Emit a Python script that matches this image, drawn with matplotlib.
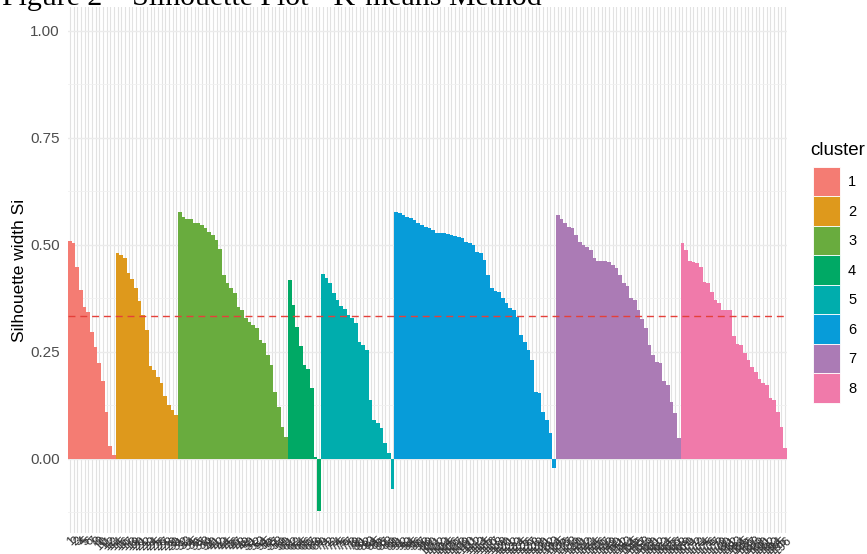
import numpy as np
import matplotlib.pyplot as plt
from matplotlib.patches import Patch

# silhouette widths per cluster, sorted high to low as in the clustering output
sil_c1 = [0.509, 0.505, 0.449, 0.395, 0.356, 0.344, 0.297, 0.262, 0.224, 0.181, 0.110, 0.030, 0.010]
sil_c2 = [0.482, 0.476, 0.470, 0.434, 0.421, 0.399, 0.368, 0.336, 0.301, 0.217, 0.208, 0.192,
          0.177, 0.146, 0.126, 0.114, 0.103]
sil_c3 = [0.578, 0.566, 0.560, 0.560, 0.552, 0.552, 0.547, 0.539, 0.531, 0.523, 0.512, 0.490,
          0.430, 0.410, 0.399, 0.387, 0.356, 0.348, 0.329, 0.321, 0.313, 0.305, 0.278, 0.270,
          0.243, 0.220, 0.157, 0.122, 0.075, 0.052]
sil_c4 = [0.418, 0.360, 0.309, 0.264, 0.220, 0.210, 0.165, 0.005, -0.122]
sil_c5 = [0.431, 0.422, 0.410, 0.387, 0.371, 0.357, 0.350, 0.336, 0.329, 0.318, 0.274, 0.266,
          0.255, 0.138, 0.091, 0.083, 0.072, 0.037, 0.015, -0.071]
sil_c6 = [0.578, 0.574, 0.570, 0.566, 0.562, 0.558, 0.551, 0.547, 0.543, 0.539, 0.535, 0.529,
          0.527, 0.527, 0.525, 0.523, 0.520, 0.518, 0.516, 0.508, 0.504, 0.500, 0.484, 0.481,
          0.466, 0.430, 0.399, 0.393, 0.389, 0.375, 0.364, 0.352, 0.348, 0.332, 0.290, 0.274,
          0.255, 0.231, 0.157, 0.153, 0.110, 0.091, 0.060, -0.022]
sil_c7 = [0.570, 0.560, 0.551, 0.543, 0.540, 0.523, 0.508, 0.500, 0.496, 0.488, 0.469, 0.463,
          0.463, 0.462, 0.461, 0.453, 0.446, 0.430, 0.410, 0.404, 0.375, 0.371, 0.348, 0.326,
          0.305, 0.266, 0.243, 0.227, 0.224, 0.181, 0.173, 0.134, 0.107, 0.050]
sil_c8 = [0.505, 0.488, 0.463, 0.461, 0.457, 0.449, 0.414, 0.410, 0.391, 0.371, 0.365, 0.347,
          0.347, 0.347, 0.287, 0.268, 0.266, 0.248, 0.231, 0.216, 0.204, 0.186, 0.177, 0.173,
          0.142, 0.138, 0.110, 0.075, 0.025]

clusters = ['1', '2', '3', '4', '5', '6', '7', '8']
cluster_colors = ['#F47C73', '#DE991C', '#69AC3E', '#00A965', '#00ADAD', '#079CD9', '#AB7BB5', '#F07AAA']
avg_width = 0.335

sil_all = [sil_c1, sil_c2, sil_c3, sil_c4, sil_c5, sil_c6, sil_c7, sil_c8]
values = np.concatenate(sil_all)
bar_colors = np.concatenate([[c] * len(s) for c, s in zip(cluster_colors, sil_all)])
n = len(values)
x = np.arange(n)
obs_ids = [str(i + 1) for i in range(n)]

plt.rcParams['font.family'] = ['Liberation Sans', 'DejaVu Sans']

fig = plt.figure(figsize=(8.67, 5.54), dpi=100)
ax = fig.add_axes([68 / 867, 1 - 533 / 554, 719 / 867, 526 / 554])

ax.bar(x, values, width=1.0, color=bar_colors, linewidth=0, zorder=2)
ax.axhline(avg_width, color='#E5403A', linestyle=(0, (5, 3.5)), linewidth=1.0, zorder=3)

ax.set_xlim(-0.5, n - 0.5)
ax.set_ylim(-0.173, 1.056)
ax.set_yticks([0, 0.25, 0.5, 0.75, 1.0])
ax.set_yticklabels(['0.00', '0.25', '0.50', '0.75', '1.00'])
ax.set_yticks(np.arange(-0.125, 1.05, 0.25), minor=True)
ax.set_xticks(x)
ax.set_xticklabels(obs_ids, rotation=45, ha='right', va='top', rotation_mode='anchor',
                   fontsize=9, color='#333333')

ax.set_axisbelow(True)
ax.grid(axis='x', color='#E2E2E2', linewidth=0.8)
ax.grid(axis='y', which='major', color='#EBEBEB', linewidth=1.0)
ax.grid(axis='y', which='minor', color='#F0F0F0', linewidth=0.6)
for sp in ax.spines.values():
    sp.set_visible(False)
ax.tick_params(axis='both', which='both', length=0)
ax.tick_params(axis='y', labelsize=11, labelcolor='#4D4D4D', pad=6)
ax.tick_params(axis='x', pad=1)
ax.set_ylabel('Silhouette width Si', fontsize=12.5, labelpad=2)

# legend: title drawn on its own so the keys can sit flush under it
fig.text(810 / 867, 1 - 150 / 554, 'cluster', fontsize=13.5, va='center', ha='left')
handles = [Patch(facecolor=c, edgecolor='white', linewidth=0.6) for c in cluster_colors]
fig.legend(handles, clusters, loc='upper left',
           bbox_to_anchor=(813 / 867, 1 - 167 / 554), frameon=False,
           fontsize=10.5, handlelength=1.85, handleheight=2.735,
           labelspacing=0.0, handletextpad=0.55, borderpad=0, borderaxespad=0)

fig.text(2 / 867, 1 - 5 / 554, 'Figure 2 \u2013 Silhouette Plot - K-means Method',
         family='Liberation Serif', fontsize=21.5, va='baseline', ha='left')

fig.savefig('out.png', dpi=100)
